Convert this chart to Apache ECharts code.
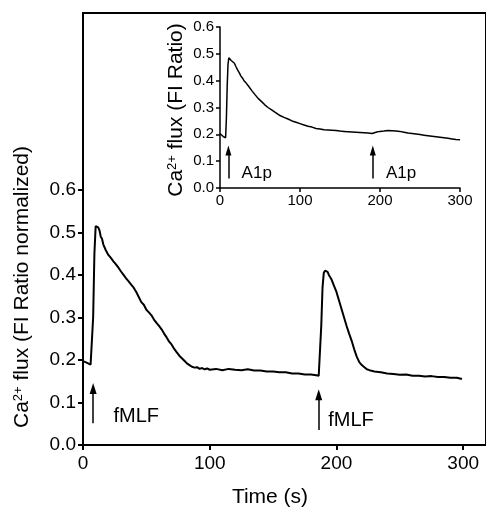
<!DOCTYPE html>
<html>
<head>
<meta charset="utf-8">
<script src="https://cdn.jsdelivr.net/npm/echarts@6/dist/echarts.min.js"></script>
<style>
  html, body { margin: 0; padding: 0; background: #fff; }
  #chart { width: 486px; height: 516px; }
</style>
</head>
<body>
<div id="chart"></div>
<script>
// main trace: fMLF stimulation, normalized ratio
const mainTime = [0, 2, 4, 6, 7, 8, 9, 10, 11, 12, 13, 14, 15, 16, 17, 18, 20, 22, 24, 26, 28, 30,
  32, 34, 36, 38, 40, 42, 44, 46, 48, 50, 52, 54, 56, 58, 60, 62, 64, 66, 68, 70, 72, 74, 76, 78,
  80, 82, 84, 86, 88, 90, 92, 94, 96, 98, 100, 105, 110, 115, 120, 125, 130, 135, 140, 145, 150,
  155, 160, 165, 170, 175, 180, 184, 186, 187, 188, 189, 190, 191, 192, 193, 194, 196, 198, 200,
  202, 204, 206, 208, 210, 212, 214, 216, 218, 220, 222, 224, 226, 230, 235, 240, 245, 250, 255,
  260, 265, 270, 275, 280, 285, 290, 295, 299];
const mainFlux = [0.197, 0.195, 0.192, 0.189, 0.19, 0.30, 0.45, 0.515, 0.518, 0.512, 0.505, 0.49,
  0.485, 0.472, 0.468, 0.458, 0.447, 0.44, 0.432, 0.425, 0.417, 0.408, 0.4, 0.392, 0.385, 0.377,
  0.37, 0.36, 0.348, 0.336, 0.33, 0.318, 0.312, 0.305, 0.295, 0.287, 0.28, 0.272, 0.262, 0.253,
  0.243, 0.236, 0.226, 0.218, 0.21, 0.204, 0.198, 0.192, 0.188, 0.184, 0.182, 0.183, 0.179, 0.181,
  0.178, 0.18, 0.177, 0.179, 0.176, 0.179, 0.177, 0.176, 0.178, 0.175, 0.175, 0.173, 0.173, 0.171,
  0.171, 0.168, 0.168, 0.166, 0.166, 0.164, 0.163, 0.165, 0.28, 0.37, 0.405, 0.41, 0.41, 0.407,
  0.4, 0.39, 0.375, 0.36, 0.34, 0.32, 0.3, 0.28, 0.262, 0.245, 0.225, 0.208, 0.195, 0.188, 0.183,
  0.178, 0.176, 0.173, 0.171, 0.168, 0.167, 0.165, 0.166, 0.163, 0.163, 0.161, 0.162, 0.16, 0.16,
  0.158, 0.158, 0.155];

// inset trace: A1p stimulation
const insetTime = [0, 2, 4, 6, 7, 8, 9, 10, 11, 12, 13, 14, 16, 18, 20, 22, 24, 26, 28, 30, 33, 36,
  40, 44, 48, 52, 56, 60, 65, 70, 75, 80, 85, 90, 95, 100, 105, 110, 115, 120, 125, 130, 135, 140,
  145, 150, 155, 160, 165, 170, 175, 180, 185, 190, 193, 196, 200, 205, 210, 215, 220, 225, 230,
  235, 240, 245, 250, 255, 260, 265, 270, 275, 280, 285, 290, 295, 300];
const insetFlux = [0.203, 0.198, 0.192, 0.188, 0.187, 0.26, 0.38, 0.46, 0.485, 0.482, 0.48, 0.475,
  0.47, 0.465, 0.452, 0.44, 0.43, 0.418, 0.41, 0.4, 0.39, 0.378, 0.362, 0.347, 0.333, 0.322, 0.31,
  0.3, 0.29, 0.28, 0.27, 0.263, 0.257, 0.25, 0.245, 0.24, 0.235, 0.23, 0.227, 0.222, 0.22, 0.217,
  0.216, 0.215, 0.214, 0.212, 0.211, 0.21, 0.209, 0.208, 0.207, 0.206, 0.205, 0.203, 0.206, 0.209,
  0.211, 0.212, 0.214, 0.213, 0.212, 0.211, 0.208, 0.205, 0.203, 0.201, 0.199, 0.197, 0.195, 0.193,
  0.191, 0.189, 0.187, 0.185, 0.183, 0.181, 0.18];

// stimulus arrows and their labels
const mainArrowTime = [8, 186];
const mainArrowBase = [0.051, 0.035];
const mainArrowTip = [0.133, 0.118];
const mainLabelPos = [[24, 0.066], [193.5, 0.058]];
const mainLabels = ['fMLF', 'fMLF'];

const insetArrowTime = [10.5, 191];
const insetArrowBase = [0.035, 0.035];
const insetArrowTip = [0.14, 0.14];
const insetLabelPos = [[27, 0.056], [207.5, 0.056]];
const insetLabels = ['A1p', 'A1p'];

const xTicks = [0, 100, 200, 300];
const yTicks = [0, 0.1, 0.2, 0.3, 0.4, 0.5, 0.6];

const FONT = 'Liberation Sans, Arial, sans-serif';

function pairs(xs, ys) {
  return xs.map((x, i) => [x, ys[i]]);
}

function arrowLines(times, base, tip) {
  return times.map((t, i) => [{ coord: [t, base[i]] }, { coord: [t, tip[i]] }]);
}

function labelPoints(pos, names) {
  return pos.map((p, i) => ({ value: p, name: names[i] }));
}

function axisStyle(width, tickLen, fontSize, margin) {
  return {
    axisLine: { show: true, onZero: false, lineStyle: { color: '#000', width: width } },
    axisTick: { show: true, length: tickLen, lineStyle: { color: '#000', width: width } },
    axisLabel: { color: '#000', fontSize: fontSize, fontFamily: FONT, margin: margin },
    splitLine: { show: false }
  };
}

function rotatedTitle(x, y, rest) {
  return {
    type: 'text', x: x, y: y, rotation: Math.PI / 2,
    style: {
      text: '{b|Ca}{s|2+}{b|' + rest + '}',
      align: 'center', verticalAlign: 'middle', fill: '#000',
      rich: {
        b: { fontSize: 21, fontFamily: FONT, fill: '#000' },
        s: { fontSize: 13, fontFamily: FONT, fill: '#000', verticalAlign: 'top' }
      }
    }
  };
}

const chart = echarts.init(document.getElementById('chart'));

const mainX = axisStyle(2, 5, 19, 9);
mainX.axisLabel.customValues = xTicks;
mainX.axisTick.customValues = xTicks;
const mainY = axisStyle(2, 5, 19, 7);
mainY.axisLabel.customValues = yTicks;
mainY.axisTick.customValues = yTicks;
mainY.axisLabel.formatter = v => v.toFixed(1);

const insetX = axisStyle(1.5, 4, 15, 5);
const insetY = axisStyle(1.5, 4, 15, 6);
insetY.axisLabel.formatter = v => v.toFixed(1);

const option = {
  animation: false,
  backgroundColor: '#fff',
  grid: [
    { left: 83, right: -6, top: 13, bottom: 71, show: true, borderColor: '#000', borderWidth: 2 },
    { left: 220, top: 27, width: 240, height: 161 }
  ],
  xAxis: [
    Object.assign({ type: 'value', gridIndex: 0, min: 0, max: 318, interval: 100 }, mainX),
    Object.assign({ type: 'value', gridIndex: 1, min: 0, max: 300, interval: 100 }, insetX)
  ],
  yAxis: [
    Object.assign({ type: 'value', gridIndex: 0, min: 0, max: 1.016, interval: 0.1 }, mainY),
    Object.assign({ type: 'value', gridIndex: 1, min: 0, max: 0.6, interval: 0.1 }, insetY)
  ],
  graphic: [
    rotatedTitle(22, 287, ' flux (FI Ratio normalized)'),
    rotatedTitle(176, 110, ' flux (FI Ratio)'),
    {
      type: 'text', x: 270, y: 497,
      style: {
        text: 'Time (s)', fontSize: 21, fontFamily: FONT, fill: '#000',
        align: 'center', verticalAlign: 'middle'
      }
    }
  ],
  series: [
    {
      type: 'line', xAxisIndex: 0, yAxisIndex: 0,
      data: pairs(mainTime, mainFlux),
      showSymbol: false, symbol: 'none',
      lineStyle: { color: '#000', width: 2 }
    },
    {
      type: 'line', xAxisIndex: 1, yAxisIndex: 1,
      data: pairs(insetTime, insetFlux),
      showSymbol: false, symbol: 'none',
      lineStyle: { color: '#000', width: 1.5 }
    },
    {
      type: 'scatter', xAxisIndex: 0, yAxisIndex: 0,
      data: labelPoints(mainLabelPos, mainLabels),
      symbolSize: 0,
      itemStyle: { color: '#000', opacity: 1 },
      label: {
        show: true, position: 'right', distance: 0, formatter: '{b}',
        color: '#000', opacity: 1, fontSize: 20, fontFamily: FONT
      },
      markLine: {
        silent: true, symbol: ['none', 'triangle'], symbolSize: [7, 11],
        lineStyle: { color: '#000', width: 1.5, type: 'solid' },
        label: { show: false },
        data: arrowLines(mainArrowTime, mainArrowBase, mainArrowTip)
      }
    },
    {
      type: 'scatter', xAxisIndex: 1, yAxisIndex: 1,
      data: labelPoints(insetLabelPos, insetLabels),
      symbolSize: 0,
      itemStyle: { color: '#000', opacity: 1 },
      label: {
        show: true, position: 'right', distance: 0, formatter: '{b}',
        color: '#000', opacity: 1, fontSize: 17, fontFamily: FONT
      },
      markLine: {
        silent: true, symbol: ['none', 'triangle'], symbolSize: [6, 10],
        lineStyle: { color: '#000', width: 1.5, type: 'solid' },
        label: { show: false },
        data: arrowLines(insetArrowTime, insetArrowBase, insetArrowTip)
      }
    }
  ]
};

chart.setOption(option);
</script>
</body>
</html>
